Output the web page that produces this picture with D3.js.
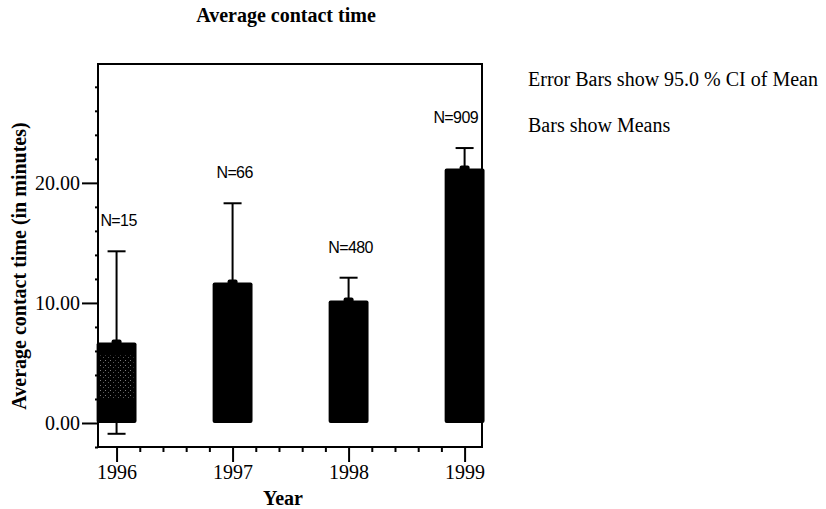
<!DOCTYPE html>
<html>
<head>
<meta charset="utf-8">
<script src="https://cdn.jsdelivr.net/npm/d3@7"></script>
<style>
    body { margin: 0; background: #fff; }
    svg { display: block; }
</style>
</head>
<body>
<div id="chart"></div>
<script>
const width = 826;
const height = 509;
const frame = { top: 64, right: 482, bottom: 447, left: 98 };

// values
const years = [1996, 1997, 1998, 1999];
const means = [6.7, 11.7, 10.2, 21.2];
const ciLower = [-0.9, 5.1, 8.3, 19.5];
const ciUpper = [14.3, 18.3, 12.1, 22.9];
const counts = [15, 66, 480, 909];
const yTicks = [0, 10, 20];
const legendLines = ["Error Bars show 95.0 % CI of Mean", "Bars show Means"];

const data = years.map((year, i) => ({
    year: year,
    mean: means[i],
    lo: ciLower[i],
    hi: ciUpper[i],
    n: counts[i]
}));

const serif = "'Liberation Serif', 'Times New Roman', serif";
const sans = "'Liberation Sans', Arial, sans-serif";

const x = d3.scaleLinear()
    .domain([1995.84, 1999.15])
    .range([frame.left, frame.right]);

const y = d3.scaleLinear()
    .domain([-2, 29.9])
    .range([frame.bottom, frame.top]);

const svg = d3.select("#chart").append("svg")
    .attr("width", width)
    .attr("height", height);

// dotted grey pattern that shows inside the first bar
const pattern = svg.append("defs").append("pattern")
    .attr("id", "dots")
    .attr("width", 5)
    .attr("height", 5)
    .attr("patternUnits", "userSpaceOnUse");
pattern.append("rect")
    .attr("width", 1).attr("height", 1)
    .attr("fill", "#7a7a7a");
pattern.append("rect")
    .attr("x", 3).attr("y", 2)
    .attr("width", 1).attr("height", 1)
    .attr("fill", "#5a5a5a");

// title
svg.append("text")
    .attr("x", 286)
    .attr("y", 22)
    .attr("text-anchor", "middle")
    .style("font-family", serif)
    .style("font-weight", "bold")
    .style("font-size", "20px")
    .text("Average contact time");

// axis labels
svg.append("text")
    .attr("transform", "rotate(-90)")
    .attr("x", -266)
    .attr("y", 26)
    .attr("text-anchor", "middle")
    .style("font-family", serif)
    .style("font-weight", "bold")
    .style("font-size", "20px")
    .text("Average contact time (in minutes)");

svg.append("text")
    .attr("x", 283)
    .attr("y", 505)
    .attr("text-anchor", "middle")
    .style("font-family", serif)
    .style("font-weight", "bold")
    .style("font-size", "20px")
    .text("Year");

// legend notes on the right
svg.selectAll(".note")
    .data(legendLines)
    .join("text")
    .attr("class", "note")
    .attr("x", 528)
    .attr("y", (d, i) => 86 + i * 46)
    .style("font-family", serif)
    .style("font-size", "20px")
    .text(d => d);

// bars
const halfBar = (x(1997) - x(1996)) * 0.172;

svg.selectAll(".bar")
    .data(data)
    .join("rect")
    .attr("class", "bar")
    .attr("x", d => x(d.year) - halfBar)
    .attr("y", d => y(d.mean))
    .attr("width", halfBar * 2)
    .attr("height", d => y(0) - y(d.mean))
    .attr("rx", 2)
    .attr("fill", "#000");

// grey stipple in the 1996 bar
svg.selectAll(".stipple")
    .data(data.slice(0, 1))
    .join("rect")
    .attr("class", "stipple")
    .attr("x", d => x(d.year) - halfBar + 3)
    .attr("y", d => y(d.mean) + 13)
    .attr("width", halfBar * 2 - 6)
    .attr("height", d => y(0) - y(d.mean) - 36)
    .attr("fill", "url(#dots)");

// error bars
const capHalf = 9;
const err = svg.selectAll(".err")
    .data(data)
    .join("g")
    .attr("class", "err")
    .attr("stroke", "#000")
    .attr("stroke-width", 2);

err.append("line")
    .attr("x1", d => x(d.year))
    .attr("x2", d => x(d.year))
    .attr("y1", d => y(d.lo))
    .attr("y2", d => y(d.hi));

err.append("line")
    .attr("x1", d => x(d.year) - capHalf)
    .attr("x2", d => x(d.year) + capHalf)
    .attr("y1", d => y(d.hi))
    .attr("y2", d => y(d.hi));

err.append("line")
    .attr("x1", d => x(d.year) - capHalf)
    .attr("x2", d => x(d.year) + capHalf)
    .attr("y1", d => y(d.lo))
    .attr("y2", d => y(d.lo));

// small mean marker on top of each bar
svg.selectAll(".meanmark")
    .data(data)
    .join("rect")
    .attr("class", "meanmark")
    .attr("x", d => x(d.year) - 5)
    .attr("y", d => y(d.mean) - 3)
    .attr("width", 10)
    .attr("height", 5)
    .attr("rx", 2)
    .attr("fill", "#000");

// N labels, pushed left when they would run into the frame
svg.selectAll(".nlab")
    .data(data)
    .join("text")
    .attr("class", "nlab")
    .attr("y", d => y(d.hi) - 25)
    .attr("text-anchor", "middle")
    .style("font-family", sans)
    .style("font-size", "16px")
    .style("letter-spacing", "-0.6px")
    .text(d => "N=" + d.n)
    .attr("x", function(d) {
        const half = this.getComputedTextLength() / 2;
        return Math.min(x(d.year) + 2, frame.right - 4 - half);
    });

// frame
svg.append("rect")
    .attr("x", frame.left)
    .attr("y", frame.top)
    .attr("width", frame.right - frame.left)
    .attr("height", frame.bottom - frame.top)
    .attr("fill", "none")
    .attr("stroke", "#000")
    .attr("stroke-width", 2);

// Axes Start Here.
const yMinor = d3.range(-2, 29, 2).filter(v => v % 10 !== 0);
const xMinor = d3.range(0, 16).map(i => 1996 + i * 0.2).filter(v => Math.abs(v - Math.round(v)) > 0.01);

svg.append("g")
    .attr("transform", `translate(${frame.left},0)`)
    .call(d3.axisLeft(y).tickValues(yTicks).tickSize(16).tickPadding(2).tickFormat(d3.format(".2f")));

svg.append("g")
    .attr("transform", `translate(${frame.left},0)`)
    .call(d3.axisLeft(y).tickValues(yMinor).tickSize(3).tickFormat(""));

svg.append("g")
    .attr("transform", `translate(0,${frame.bottom})`)
    .call(d3.axisBottom(x).tickValues(years).tickSize(15).tickPadding(3).tickFormat(d3.format("d")));

svg.append("g")
    .attr("transform", `translate(0,${frame.bottom})`)
    .call(d3.axisBottom(x).tickValues(xMinor).tickSize(5).tickFormat(""));

svg.selectAll(".domain").remove();
svg.selectAll(".tick line").attr("stroke", "#000").attr("stroke-width", 2);
svg.selectAll(".tick text")
    .attr("fill", "#000")
    .style("font-family", serif)
    .style("font-size", "20px");
</script>
</body>
</html>
